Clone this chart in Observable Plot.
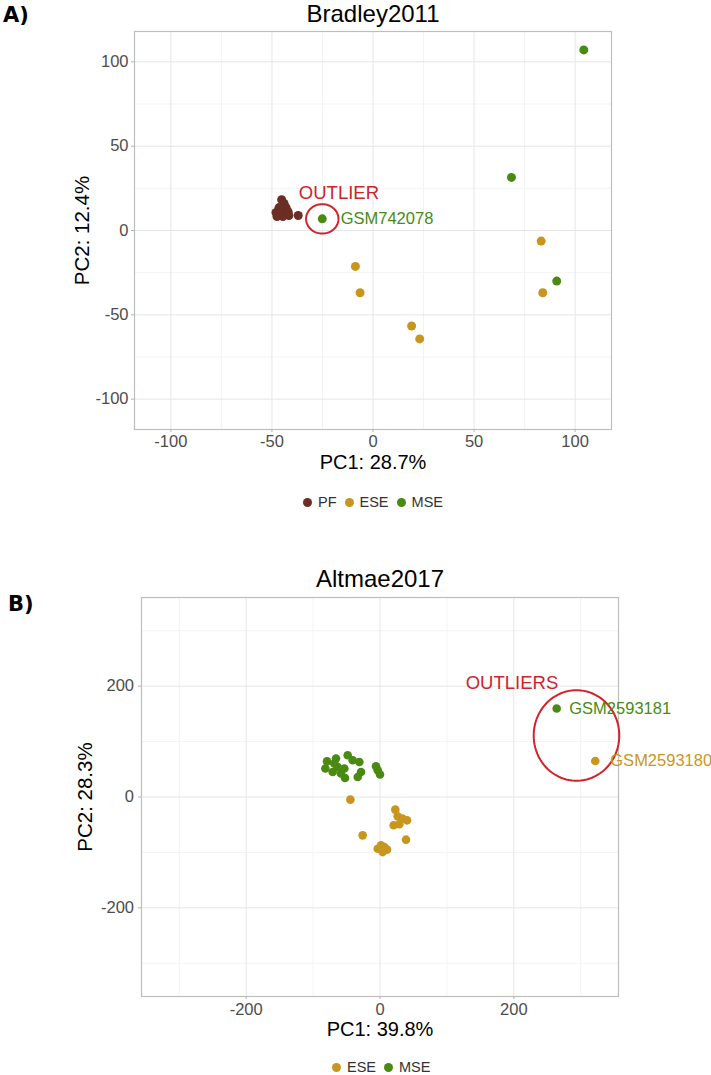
<!DOCTYPE html>
<html>
<head>
<meta charset="utf-8">
<script src="https://cdn.jsdelivr.net/npm/d3@7"></script>
<script src="https://cdn.jsdelivr.net/npm/@observablehq/plot@0.6"></script>
<style>
  body { margin: 0; background: #fff; }
  #root { position: relative; width: 711px; height: 1075px; background: #fff; overflow: hidden; font-family: "Liberation Sans", Arial, sans-serif; }
  .panel-label { position: absolute; font-family: "DejaVu Sans", sans-serif; font-weight: bold; font-size: 21px; line-height: 1; color: #000; }
  .plot { position: absolute; left: 0; }
  .legend { position: absolute; display: flex; align-items: center; height: 20px; font-size: 14.5px; color: #333; }
  .legend .sw { width: 9px; height: 9px; border-radius: 50%; margin-right: 6px; flex: none; }
  .legend .tx { margin-right: 8px; }
</style>
</head>
<body>
<div id="root">
  <div class="panel-label" style="left:3px;top:5px">A)</div>
  <div class="panel-label" style="left:8px;top:594px">B)</div>
  <div id="plotA" class="plot" style="top:0px"></div>
  <div id="plotB" class="plot" style="top:540px"></div>
  <div id="legA" class="legend" style="left:303px;top:492px"></div>
  <div id="legB" class="legend" style="left:332px;top:1057px"></div>
</div>
<script>
// ---------- Panel A: Bradley2011 ----------
const titleA = "Bradley2011";
const xLabelA = "PC1: 28.7%";
const yLabelA = "PC2: 12.4%";
const groupsA = ["PF", "ESE", "MSE"];
const pfX_A  = [-45.2, -44.0, -46.5, -43.0, -48.0, -45.5, -42.0, -47.5, -44.6, -41.6, -37.0];
const pfY_A  = [18.3, 16.0, 13.6, 13.6, 10.7, 10.7, 11.2, 8.3, 8.3, 8.9, 8.9];
const eseX_A = [83.2, 84.0, -8.7, -6.4, 19.1, 23.1];
const eseY_A = [-6.3, -36.9, -21.3, -36.9, -56.6, -64.3];
const mseX_A = [104.3, 68.5, -25.1, 90.9];
const mseY_A = [107.1, 31.5, 6.9, -30.0];
const ticksA = [-100, -50, 0, 50, 100];
const minorA = [-75, -25, 25, 75];
const domainA = [-118, 118];
const outlierA = [{x: -25.1, y: 6.9, id: "GSM742078"}];
const outlierTextA = "OUTLIER";

// ---------- Panel B: Altmae2017 ----------
const titleB = "Altmae2017";
const xLabelB = "PC1: 39.8%";
const yLabelB = "PC2: 28.3%";
const groupsB = ["ESE", "MSE"];
const eseX_B = [-44.3, 22.9, 26.4, 33.9, 40.4, 20.4, 28.9, -25.9, 38.9, -3.4, 1.5, 6.5, 4.0, 10.5, 321.8];
const eseY_B = [-4.8, -22.8, -34.9, -39.1, -42.1, -51.1, -49.3, -69.2, -77.0, -93.3, -87.3, -90.3, -99.4, -95.0, 65.0];
const mseX_B = [-79.2, -81.7, -65.8, -70.7, -63.2, -68.3, -53.3, -52.3, -48.3, -40.8, -30.9, -28.4, -33.3, -6.0, 0.0, -58.3, -3.4, 264.1];
const mseY_B = [64.5, 51.3, 69.4, 45.2, 54.2, 60.3, 51.3, 34.3, 75.3, 66.3, 63.2, 45.2, 36.1, 55.5, 40.5, 42.3, 48.2, 159.7];
const ticksB = [-200, 0, 200];
const minorB = [-300, -100, 100, 300];
const domainBx = [-356.5, 356.5];
const domainBy = [-360, 360];
const outlierMseB = [{x: 264.1, y: 159.7, id: "GSM2593181"}];
const outlierEseB = [{x: 321.8, y: 65.0, id: "GSM2593180"}];
const ellipseB = [{x: 293.7, y: 111}];
const outlierTextB = "OUTLIERS";

// ---------- styling ----------
const colors = {PF: "#6b2d24", ESE: "#c8961f", MSE: "#4b8a12"};
const red = "#d1232a";
const fontFamily = "'Liberation Sans', Arial, sans-serif";

function pts(xs, ys, g) { return xs.map((x, i) => ({x, y: ys[i], group: g})); }
function ellipse(rx, ry) {
  return {draw(ctx) {
    const n = 90;
    for (let i = 0; i <= n; i++) {
      const t = 2 * Math.PI * i / n;
      const px = rx * Math.cos(t), py = ry * Math.sin(t);
      if (i === 0) ctx.moveTo(px, py); else ctx.lineTo(px, py);
    }
    ctx.closePath();
  }};
}
function frameMarks(ticksX, minorX, ticksY, minorY, title, xl, yl, o) {
  return [
    Plot.gridX(minorX, {stroke: "#f3f3f3", strokeOpacity: 1}),
    Plot.gridY(minorY, {stroke: "#f3f3f3", strokeOpacity: 1}),
    Plot.gridX(ticksX, {stroke: "#e6e6e6", strokeOpacity: 1}),
    Plot.gridY(ticksY, {stroke: "#e6e6e6", strokeOpacity: 1}),
    Plot.frame({stroke: "#bdbdbd", strokeWidth: 1.2}),
    Plot.axisX(ticksX, {tickSize: 3, tickPadding: o.padX, stroke: "#b3b3b3", fill: "#4d4d4d", fontSize: 16.5, tickFormat: d => String(d), label: null}),
    Plot.axisY(ticksY, {anchor: "left", tickSize: 3, tickPadding: o.padY, stroke: "#b3b3b3", fill: "#4d4d4d", fontSize: 16.5, tickFormat: d => String(d), label: null}),
    Plot.text([title], {frameAnchor: "top", dy: o.titleDy, fontSize: 24, fill: "#000", lineAnchor: "middle", textAnchor: "middle"}),
    Plot.text([xl], {frameAnchor: "bottom", dy: o.xlDy, fontSize: 20, fill: "#000", lineAnchor: "middle", textAnchor: "middle"}),
    Plot.text([yl], {frameAnchor: "left", dx: o.ylDx, rotate: -90, fontSize: 20.5, fill: "#000", lineAnchor: "middle", textAnchor: "middle"})
  ];
}

const dataA = [...pts(pfX_A, pfY_A, "PF"), ...pts(eseX_A, eseY_A, "ESE"), ...pts(mseX_A, mseY_A, "MSE")];
const plotA = Plot.plot({
  width: 711, height: 480,
  marginTop: 31, marginBottom: 51, marginLeft: 134, marginRight: 100,
  x: {domain: domainA, axis: null},
  y: {domain: domainA, axis: null},
  color: {domain: groupsA, range: groupsA.map(g => colors[g])},
  style: {fontFamily, background: "transparent", overflow: "visible"},
  marks: [
    ...frameMarks(ticksA, minorA, ticksA, minorA, titleA, xLabelA, yLabelA, {padX: 2.5, padY: 3, titleDy: -17.5, xlDy: 33.5, ylDx: -52}),
    Plot.dot(dataA, {x: "x", y: "y", fill: "group", r: 4.5}),
    Plot.dot(outlierA, {x: "x", y: "y", r: 16, symbol: ellipse(16.2, 14.7), stroke: red, strokeWidth: 2, fill: "none"}),
    Plot.text(outlierA, {x: "x", y: "y", text: () => outlierTextA, dx: 16.7, dy: -26, fill: red, fontSize: 18.5, textAnchor: "middle", lineAnchor: "middle"}),
    Plot.text(outlierA, {x: "x", y: "y", text: "id", dx: 18.4, fill: colors.MSE, fontSize: 16.5, textAnchor: "start", lineAnchor: "middle"})
  ]
});
document.getElementById("plotA").appendChild(plotA);

const dataB = [...pts(eseX_B, eseY_B, "ESE"), ...pts(mseX_B, mseY_B, "MSE")];
const plotB = Plot.plot({
  width: 711, height: 535,
  marginTop: 57, marginBottom: 79, marginLeft: 141, marginRight: 93,
  x: {domain: domainBx, axis: null},
  y: {domain: domainBy, axis: null},
  color: {domain: groupsB, range: groupsB.map(g => colors[g])},
  style: {fontFamily, background: "transparent", overflow: "visible"},
  marks: [
    ...frameMarks(ticksB, minorB, ticksB, minorB, titleB, xLabelB, yLabelB, {padX: 3.5, padY: 4.5, titleDy: -18.3, xlDy: 33, ylDx: -56}),
    Plot.dot(dataB, {x: "x", y: "y", fill: "group", r: 4.3}),
    Plot.dot(ellipseB, {x: "x", y: "y", r: 44, symbol: ellipse(42.8, 45.3), stroke: red, strokeWidth: 2, fill: "none"}),
    Plot.text(outlierMseB, {x: "x", y: "y", text: () => outlierTextB, dx: -44.7, dy: -25, fill: red, fontSize: 18.5, textAnchor: "middle", lineAnchor: "middle"}),
    Plot.text(outlierMseB, {x: "x", y: "y", text: "id", dx: 12.6, fill: colors.MSE, fontSize: 16.5, textAnchor: "start", lineAnchor: "middle"}),
    Plot.text(outlierEseB, {x: "x", y: "y", text: "id", dx: 15, fill: colors.ESE, fontSize: 16.5, textAnchor: "start", lineAnchor: "middle"})
  ]
});
document.getElementById("plotB").appendChild(plotB);

// ---------- legends ----------
function legend(id, groups) {
  const el = document.getElementById(id);
  groups.forEach(g => {
    const sw = document.createElement("span");
    sw.className = "sw"; sw.style.background = colors[g];
    const tx = document.createElement("span");
    tx.className = "tx"; tx.textContent = g;
    el.appendChild(sw); el.appendChild(tx);
  });
}
legend("legA", groupsA);
legend("legB", groupsB);
</script>
</body>
</html>
